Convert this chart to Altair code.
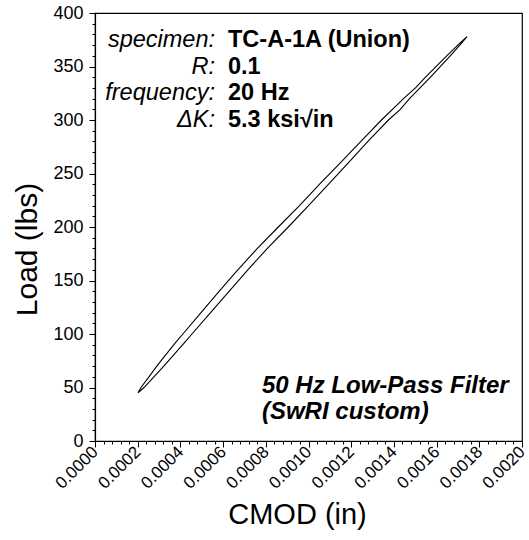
import altair as alt
import pandas as pd

# Hysteresis loop of load vs. crack-mouth opening displacement for one cycle
load_up = [45, 50, 60, 70, 80, 92, 100, 120, 140, 160, 180, 200, 220, 240, 260,
           280, 300, 320, 330, 340, 360, 370, 378]
cmod_up = [0.0002014, 0.0002155, 0.0002525, 0.0002895, 0.0003293, 0.0003770,
           0.0004117, 0.0004967, 0.0005822, 0.0006689, 0.0007607, 0.0008585,
           0.0009578, 0.0010520, 0.0011489, 0.0012454, 0.0013419, 0.0014450,
           0.0015010, 0.0015480, 0.0016475, 0.0016993, 0.0017424]

load_down = [378, 370, 360, 340, 320, 310, 300, 280, 260, 240, 220, 200, 180,
             160, 140, 120, 100, 92, 80, 70, 60, 50, 45]
cmod_down = [0.0017424, 0.0017086, 0.0016639, 0.0015714, 0.0014731, 0.0014300,
             0.0013747, 0.0012782, 0.0011864, 0.0010941, 0.0010000, 0.0009054,
             0.0008075, 0.0007157, 0.0006290, 0.0005412, 0.0004539, 0.0004192,
             0.0003667, 0.0003222, 0.0002759, 0.0002295, 0.0002014]

# Axis tick positions (major + minor)
x_ticks = [round(i * 0.00004, 5) for i in range(51)]
y_ticks = list(range(0, 401, 10))

# Annotation text
info_labels = ["specimen:", "R:", "frequency:", "\u0394K:"]
info_values = ["TC-A-1A (Union)", "0.1", "20 Hz", "5.3 ksi\u221ain"]
info_rows = [375, 350, 325, 300]
filter_lines = ["50 Hz Low-Pass Filter", "(SwRI custom)"]
filter_rows = [51.5, 27]

FONT = "Liberation Sans"
X_MAJOR = "abs(datum.value*5000 - round(datum.value*5000)) < 1e-6"

loop = pd.DataFrame({
    "cmod": cmod_up + cmod_down,
    "load": load_up + load_down,
    "step": list(range(len(cmod_up) + len(cmod_down))),
})

x_scale = alt.Scale(domain=[0, 0.002], nice=False, zero=False)
y_scale = alt.Scale(domain=[0, 400], nice=False)

x_axis = alt.Axis(
    values=x_ticks,
    format=".4f",
    labelExpr=X_MAJOR + " ? datum.label : ''",
    labelAngle=-45,
    labelAlign="right",
    labelBaseline="middle",
    labelFontSize=17,
    labelFont=FONT,
    labelColor="black",
    labelOverlap=False,
    labelPadding=2,
    tickSize={"condition": {"test": X_MAJOR, "value": 6}, "value": 3},
    tickColor="black",
    domainColor="black",
    domainWidth=1.2,
    grid=False,
    title="CMOD (in)",
    titleFont=FONT,
    titleFontSize=29,
    titleFontWeight="normal",
    titleColor="black",
    titlePadding=9,
    titleX=202,
)

y_axis = alt.Axis(
    values=y_ticks,
    labelExpr="datum.value % 50 === 0 ? datum.label : ''",
    labelFontSize=18,
    labelFont=FONT,
    labelColor="black",
    labelOverlap=False,
    labelPadding=6,
    tickSize={"condition": {"test": "datum.value % 50 === 0", "value": 6}, "value": 3},
    tickColor="black",
    domainColor="black",
    domainWidth=1.2,
    grid=False,
    title="Load (lbs)",
    titleFont=FONT,
    titleFontSize=30,
    titleFontWeight="normal",
    titleColor="black",
    titlePadding=10,
    titleY=236,
)


def xenc(field):
    return alt.X(field, type="quantitative", scale=x_scale, axis=x_axis)


def yenc(field):
    return alt.Y(field, type="quantitative", scale=y_scale, axis=y_axis)


curve = alt.Chart(loop).mark_line(color="black", strokeWidth=1.1).encode(
    x=xenc("cmod"),
    y=yenc("load"),
    order="step:Q",
)

info_df = pd.DataFrame({
    "label": info_labels,
    "value": info_values,
    "load": info_rows,
    "xl": [0.000562] * 4,
    "xv": [0.000623] * 4,
})

info_lab = alt.Chart(info_df).mark_text(
    align="right", baseline="middle", font=FONT, fontSize=23.5,
    fontStyle="italic", color="black",
).encode(x=xenc("xl"), y=yenc("load"), text="label:N")

info_val = alt.Chart(info_df).mark_text(
    align="left", baseline="middle", font=FONT, fontSize=23.5,
    fontWeight="bold", color="black",
).encode(x=xenc("xv"), y=yenc("load"), text="value:N")

filter_df = pd.DataFrame({
    "text": filter_lines,
    "load": filter_rows,
    "x": [0.000782] * 2,
})

filter_txt = alt.Chart(filter_df).mark_text(
    align="left", baseline="middle", font=FONT, fontSize=24,
    fontWeight="bold", fontStyle="italic", color="black",
).encode(x=xenc("x"), y=yenc("load"), text="text:N")

chart = alt.layer(curve, info_lab, info_val, filter_txt).properties(
    width=427,
    height=428,
    autosize=alt.AutoSizeParams(type="none"),
    padding={"left": 95, "top": 13, "right": 7, "bottom": 99},
    background="white",
).configure_view(stroke="black", strokeWidth=1.2)

chart.save("out.html", embed_options={"renderer": "svg", "actions": False})
